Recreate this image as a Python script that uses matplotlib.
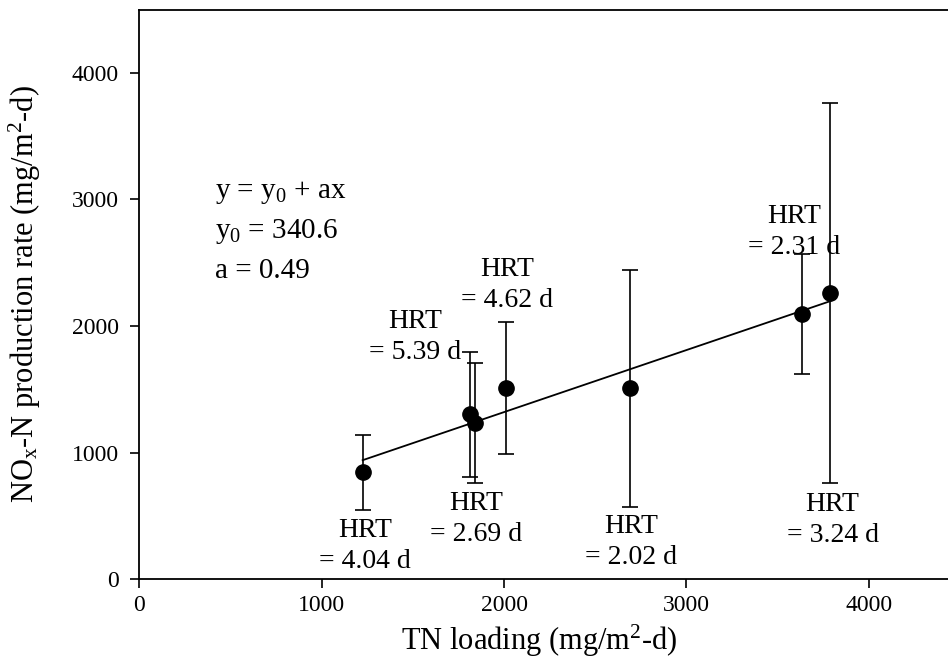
import matplotlib
matplotlib.use("Agg")
import matplotlib.pyplot as plt

plt.rcParams['font.family'] = ['Liberation Serif', 'DejaVu Serif']
plt.rcParams['mathtext.default'] = 'regular'

# dados
tn_loading = [1225, 1816, 1840, 2012, 2693, 3632, 3790]
nox_rate = [845, 1304, 1237, 1513, 1509, 2095, 2264]
err_alto = [1140, 1795, 1708, 2033, 2443, 2568, 3763]
err_baixo = [545, 806, 761, 987, 569, 1618, 760]

y0 = 340.6
a = 0.49

hrt_textos = ["HRT\n= 4.04 d", "HRT\n= 5.39 d", "HRT\n= 2.69 d", "HRT\n= 4.62 d",
              "HRT\n= 2.02 d", "HRT\n= 2.31 d", "HRT\n= 3.24 d"]
hrt_x = [1237, 1511, 1848, 2015, 2695, 3588, 3801]
hrt_y = [265, 1916, 476, 2325, 297, 2746, 468]

eq_textos = ["y = y$_0$ + ax", "y$_0$ = 340.6", "a = 0.49"]
eq_y = [3009, 2693, 2378]

fig = plt.figure(figsize=(9.48, 6.62), dpi=100)
# o eixo passa um pouco da borda direita, como no original
ax = fig.add_axes([139.2 / 948, (662 - 579.3) / 662, 820.8 / 948, (579.3 - 9.6) / 662])

yerr = [[v - b for v, b in zip(nox_rate, err_baixo)],
        [t - v for v, t in zip(nox_rate, err_alto)]]
ax.errorbar(tn_loading, nox_rate, yerr=yerr, fmt='o', color='black', ms=11,
            ecolor='black', elinewidth=1.2, capsize=6, capthick=1.2)

xs = [min(tn_loading), max(tn_loading)]
ax.plot(xs, [y0 + a * x for x in xs], color='black', lw=1.3)

for txt, x, y in zip(hrt_textos, hrt_x, hrt_y):
    ax.text(x, y, txt, ha='center', va='center', fontsize=20, linespacing=1.3)

for txt, y in zip(eq_textos, eq_y):
    ax.text(415, y, txt, fontsize=21, va='baseline')

ax.set_xlim(0, 4500)
ax.set_ylim(0, 4500)
ax.set_xticks([0, 1000, 2000, 3000, 4000])
ax.set_yticks([0, 1000, 2000, 3000, 4000])
ax.tick_params(direction='out', length=6.5, width=1.2, labelsize=17)
ax.tick_params(axis='y', pad=8)
ax.tick_params(axis='x', pad=5)
for s in ax.spines.values():
    s.set_linewidth(1.3)

ax.set_xlabel("TN loading (mg/m$^2$-d)", fontsize=22)
ax.set_ylabel("NO$_x$-N production rate (mg/m$^2$-d)", fontsize=22)
ax.xaxis.set_label_coords(0.487, -0.076)
ax.yaxis.set_label_coords(-0.117, 0.5)

fig.savefig("out.png", dpi=100)
